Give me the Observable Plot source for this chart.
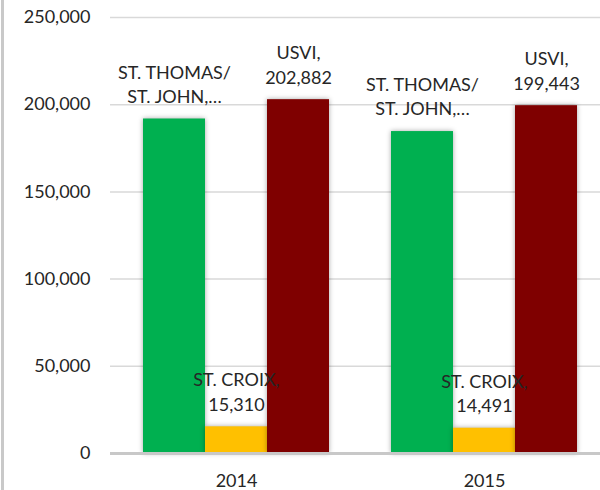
<!DOCTYPE html>
<html>
<head>
<meta charset="utf-8">
<script src="https://cdn.jsdelivr.net/npm/d3@7"></script>
<script src="https://cdn.jsdelivr.net/npm/@observablehq/plot@0.6"></script>
<style>
  html, body { margin: 0; padding: 0; background: #fff; overflow: hidden; }
  #wrap { position: relative; width: 600px; height: 490px; }
  #edge { position: absolute; left: 1px; top: 0; width: 3px; height: 490px; background: #c9c9c9; }
  .bars rect { filter: drop-shadow(0px 0px 2.5px rgba(0,0,0,0.35)); }
</style>
</head>
<body>
<div id="wrap"><div id="edge"></div></div>
<script>
const years = ["2014", "2015"];
const series = ["ST. THOMAS/ ST. JOHN", "ST. CROIX", "USVI"];
const seriesColors = ["#00b050", "#ffc000", "#7f0000"];
const stThomasStJohn = [191800, 184600];
const stCroix = [15310, 14491];
const usvi = [202882, 199443];
const yTicks = [0, 50000, 100000, 150000, 200000, 250000];

const valuesBySeries = [stThomasStJohn, stCroix, usvi];
const fmt = d3.format(",");

// band keys: one per bar, with an empty slot between the year groups
const keys = [];
years.forEach((yr, i) => {
  if (i > 0) keys.push("gap" + i);
  series.forEach(s => keys.push(yr + "|" + s));
});

const data = [];
years.forEach((yr, i) => {
  series.forEach((s, j) => {
    const v = valuesBySeries[j][i];
    let label;
    if (j === 0) label = "ST. THOMAS/\nST. JOHN,…";
    else label = s + ",\n" + fmt(v);
    data.push({key: yr + "|" + s, year: yr, series: s, value: v, label});
  });
});

const chart = Plot.plot({
  width: 600,
  height: 490,
  marginLeft: 110,
  marginRight: 0,
  marginTop: 17,
  marginBottom: 37,
  style: {fontFamily: "Lato, sans-serif", fontSize: "18px", color: "#262626", background: "transparent"},
  x: {domain: keys, range: [110, 609], paddingInner: 0, paddingOuter: 0.5, axis: null},
  y: {domain: [0, 250000], axis: null},
  color: {domain: series, range: seriesColors},
  marks: [
    Plot.gridY(yTicks, {stroke: "#d9d9d9", strokeOpacity: 1, strokeWidth: 1.5}),
    Plot.axisY(yTicks, {tickSize: 0, tickPadding: 20, tickFormat: fmt, fontSize: 18, fill: "#262626", label: null}),
    Plot.barY(data, {x: "key", y: "value", fill: "series", insetLeft: 0, insetRight: 0, className: "bars"}),
    Plot.ruleY([0], {stroke: "#c8c8c8", strokeWidth: 3}),
    Plot.axisX(years.map(y => y + "|ST. CROIX"), {tickSize: 0, tickPadding: 21, tickFormat: d => d.split("|")[0], fontSize: 18, fill: "#262626", label: null}),
    Plot.text(data, {x: "key", y: "value", text: "label", dy: -36, lineAnchor: "middle", lineHeight: 1.35, fontSize: 18, fill: "#262626"})
  ]
});
document.getElementById("wrap").appendChild(chart);
</script>
</body>
</html>
